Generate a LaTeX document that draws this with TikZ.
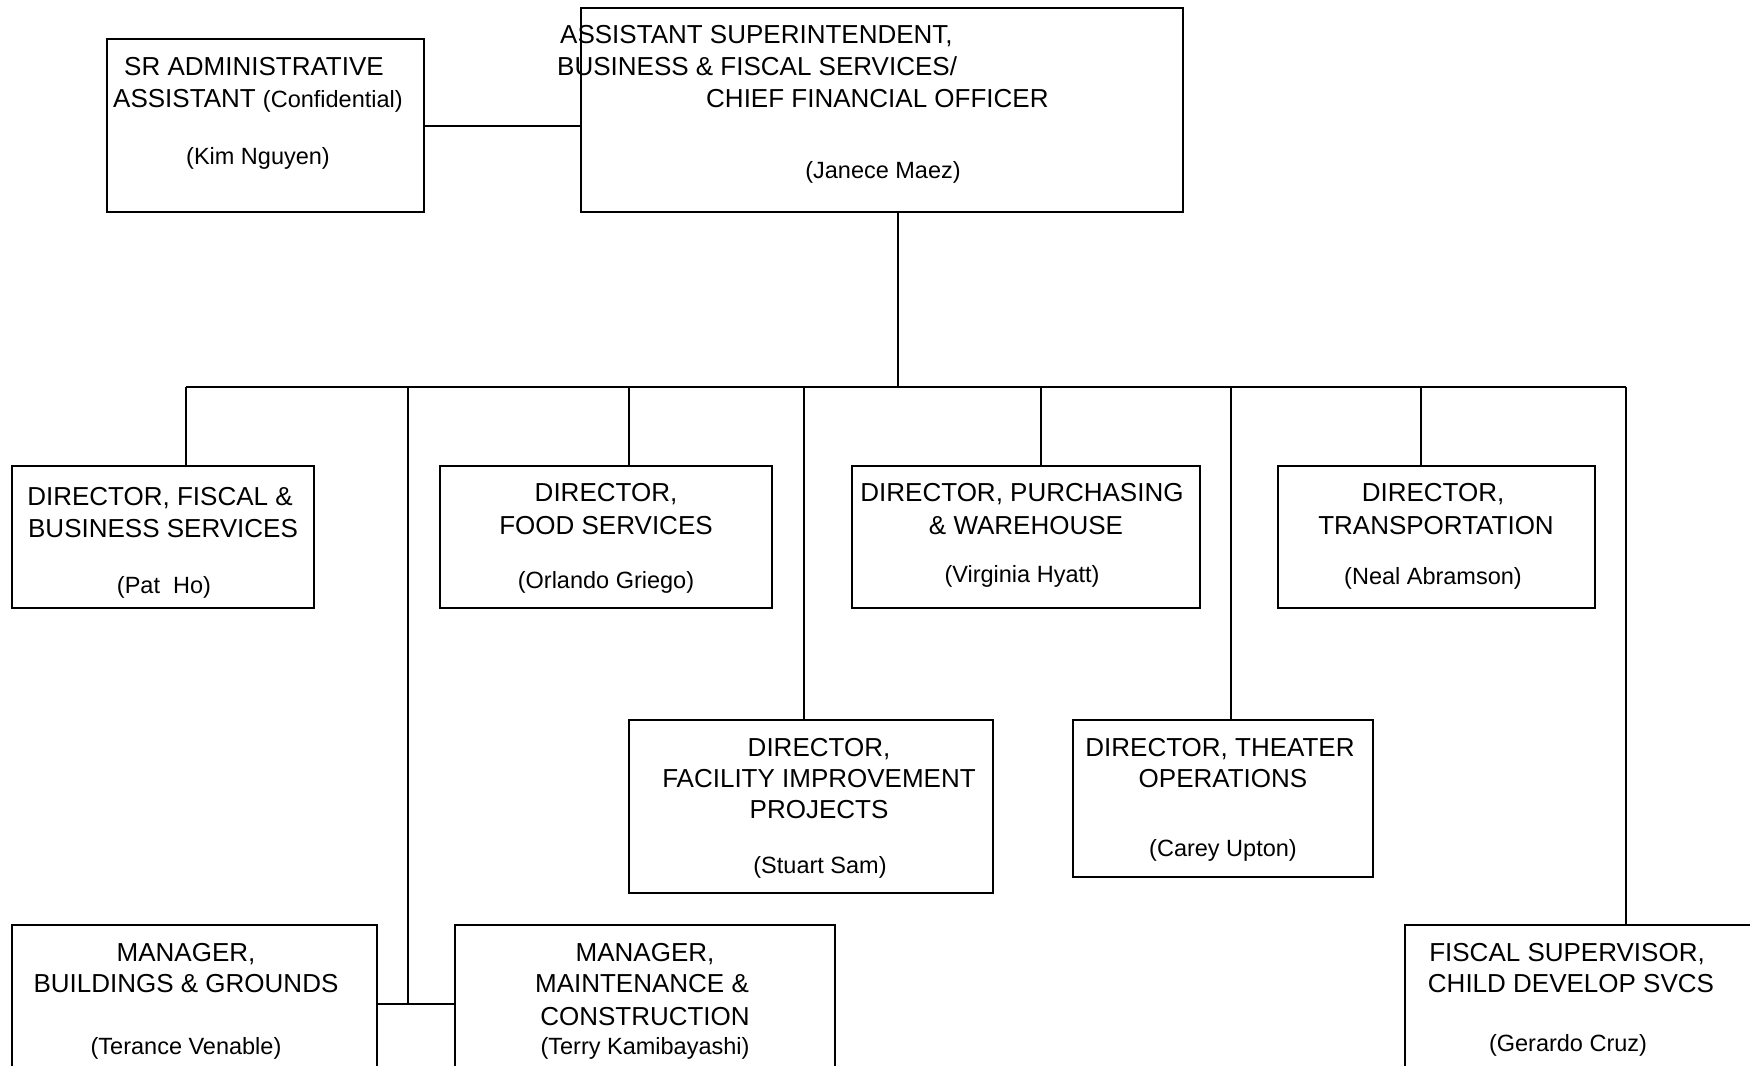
\documentclass[tikz,border=0pt]{standalone}
\usepackage{fontspec}
\setmainfont{Liberation Sans}
\usetikzlibrary{fit}
\begin{document}
\begin{tikzpicture}[x=1pt,y=-1pt,
  orgbox/.style={draw, line width=2pt, rectangle, inner sep=0pt},
  conn/.style={line width=2pt},
  ttl/.style={font=\fontsize{26}{32}\selectfont, inner sep=0pt, anchor=base},
  nme/.style={font=\fontsize{23.5}{28}\selectfont, inner sep=0pt, anchor=base}]
\useasboundingbox (0,0) rectangle (1750,1065);
\fill[white] (0,0) rectangle (1750,1065);
\clip (0,0) rectangle (1750,1065);

% boxes
\node[orgbox, fit={(107,39) (424,212)}] (sr) {};
\node[orgbox, fit={(581,8) (1183,212)}] (top) {};
\node[orgbox, fit={(12,466) (314,608)}] (fb) {};
\node[orgbox, fit={(440,466) (772,608)}] (food) {};
\node[orgbox, fit={(852,466) (1200,608)}] (pur) {};
\node[orgbox, fit={(1278,466) (1595,608)}] (trn) {};
\node[orgbox, fit={(629,720) (993,893)}] (fac) {};
\node[orgbox, fit={(1073,720) (1373,877)}] (thr) {};
\node[orgbox, fit={(12,925) (377,1110)}] (bg) {};
\node[orgbox, fit={(455,925) (835,1110)}] (mc) {};
\node[orgbox, fit={(1405,925) (1800,1110)}] (fs) {};

% junction coordinates
\coordinate (tj) at (898,387);
\coordinate (d1) at (186,387);
\coordinate (d2) at (408,387);
\coordinate (d3) at (629,387);
\coordinate (d4) at (804,387);
\coordinate (d5) at (1041,387);
\coordinate (d6) at (1231,387);
\coordinate (d7) at (1421,387);
\coordinate (d8) at (1626,387);
\coordinate (mj) at (408,1004);

% connectors
\draw[conn] (sr.east) -- (sr.east -| top.west);
\draw[conn] (top.south -| tj) -- (tj);
\draw[conn] (d1) -- (d8);
\draw[conn] (d1) -- (fb.north -| d1);
\draw[conn] (d2) -- (mj);
\draw[conn] (bg.east |- mj) -- (mc.west |- mj);
\draw[conn] (d3) -- (food.north -| d3);
\draw[conn] (d4) -- (fac.north -| d4);
\draw[conn] (d5) -- (pur.north -| d5);
\draw[conn] (d6) -- (thr.north -| d6);
\draw[conn] (d7) -- (trn.north -| d7);
\draw[conn] (d8) -- (fs.north -| d8);

% texts: SR admin
\node[ttl] (sr1) at (254,75) {SR ADMINISTRATIVE};
\node[ttl, anchor=base west] (sr2) at (113,107) {ASSISTANT {\fontsize{23.5}{28}\selectfont(Confidential)}};
\node[nme] (sr3) at (258,164) {(Kim Nguyen)};
% top
\node[ttl, anchor=base west] (tp1) at (560,44) {ASSISTANT SUPERINTENDENT,};
\node[ttl, anchor=base west] (tp2) at (557,75) {BUSINESS \& FISCAL SERVICES/};
\node[ttl, anchor=base west] (tp3) at (706,107) {CHIEF FINANCIAL OFFICER};
\node[nme] (tp4) at (883,178) {(Janece Maez)};
% fiscal & business
\node[ttl] (fb1) at (160,505) {DIRECTOR, FISCAL \&};
\node[ttl] (fb2) at (163,537) {BUSINESS SERVICES};
\node[nme] (fb3) at (164,593) {(Pat\ \ Ho)};
% food
\node[ttl] (fd1) at (606,501) {DIRECTOR,};
\node[ttl] (fd2) at (606,534) {FOOD SERVICES};
\node[nme] (fd3) at (606,588) {(Orlando Griego)};
% purchasing
\node[ttl] (pu1) at (1022,501) {DIRECTOR, PURCHASING};
\node[ttl] (pu2) at (1026,534) {\& WAREHOUSE};
\node[nme] (pu3) at (1022,582) {(Virginia Hyatt)};
% transportation
\node[ttl] (tr1) at (1433,501) {DIRECTOR,};
\node[ttl] (tr2) at (1436,534) {TRANSPORTATION};
\node[nme] (tr3) at (1433,584) {(Neal Abramson)};
% facility
\node[ttl] (fa1) at (819,756) {DIRECTOR,};
\node[ttl] (fa2) at (819,787) {FACILITY IMPROVEMENT};
\node[ttl] (fa3) at (819,818) {PROJECTS};
\node[nme] (fa4) at (820,873) {(Stuart Sam)};
% theater
\node[ttl] (th1) at (1220,756) {DIRECTOR, THEATER};
\node[ttl] (th2) at (1223,787) {OPERATIONS};
\node[nme] (th3) at (1223,856) {(Carey Upton)};
% buildings & grounds
\node[ttl] (bg1) at (186,961) {MANAGER,};
\node[ttl] (bg2) at (186,992) {BUILDINGS \& GROUNDS};
\node[nme] (bg3) at (186,1054) {(Terance Venable)};
% maintenance & construction
\node[ttl] (mc1) at (645,961) {MANAGER,};
\node[ttl] (mc2) at (642,992) {MAINTENANCE \&};
\node[ttl] (mc3) at (645,1025) {CONSTRUCTION};
\node[nme] (mc4) at (645,1054) {(Terry Kamibayashi)};
% fiscal supervisor
\node[ttl] (fs1) at (1567,961) {FISCAL SUPERVISOR,};
\node[ttl] (fs2) at (1571,992) {CHILD DEVELOP SVCS};
\node[nme] (fs3) at (1568,1051) {(Gerardo Cruz)};
\end{tikzpicture}
\end{document}
